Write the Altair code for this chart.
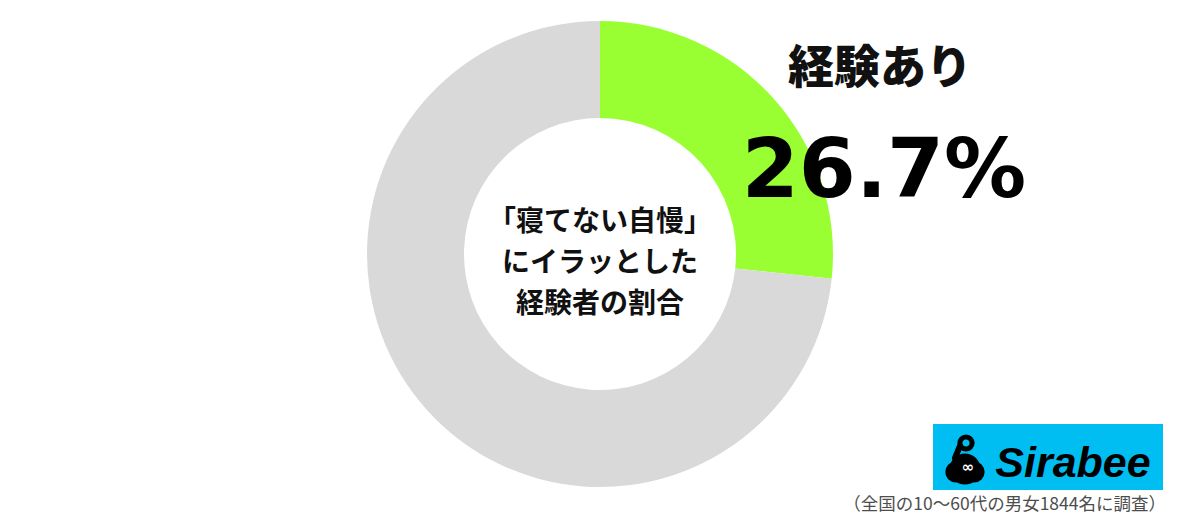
import altair as alt
import pandas as pd

# ---- data ----
categories = ["経験あり", "経験なし"]
values = [26.7, 73.3]
colors = ["#99FF33", "#D9D9D9"]
center_lines = ["「寝てない自慢」", "にイラッとした", "経験者の割合"]
label_text = "経験あり"
pct_text = "26.7%"
footnote = "（全国の10～60代の男女1844名に調査）"
brand = "Sirabee"

W, H = 1184, 506
OFF = 8  # page margin

def px(v):
    return v - OFF

df = pd.DataFrame({"cat": categories, "val": values, "ord": list(range(len(categories)))})

donut = alt.Chart(df).mark_arc(innerRadius=136, outerRadius=233, stroke=None).encode(
    theta=alt.Theta("val:Q", stack=True),
    order=alt.Order("ord:Q"),
    color=alt.Color("cat:N", scale=alt.Scale(domain=categories, range=colors), legend=None),
    x=alt.value(px(600)),
    y=alt.value(px(254)),
)

center_df = pd.DataFrame({"t": center_lines, "i": [0, 1, 2]})
center_txt = alt.Chart(center_df).transform_calculate(
    yy=f"{px(223)} + datum.i * 41"
).mark_text(
    font="Noto Sans CJK JP", fontSize=28, fontWeight="bold", color="#111111",
    align="center", baseline="middle"
).encode(
    text="t:N",
    x=alt.value(px(600)),
    y=alt.Y("yy:Q", scale=None),
)

lab = alt.Chart(pd.DataFrame({"t": [label_text]})).mark_text(
    font="Noto Sans CJK JP", fontSize=46, fontWeight=900, color="#111111",
    align="center", baseline="middle"
).encode(text="t:N", x=alt.value(px(880)), y=alt.value(px(69)))

pct = alt.Chart(pd.DataFrame({"t": [pct_text]})).mark_text(
    font="DejaVu Sans", fontSize=82, fontWeight="bold", color="#000000",
    align="center", baseline="alphabetic"
).encode(text="t:N", x=alt.value(px(884)), y=alt.value(px(197)))

logo_box = alt.Chart(pd.DataFrame({"a": [0]})).mark_rect(color="#00BEF2").encode(
    x=alt.value(px(933)), x2=alt.value(px(1163)),
    y=alt.value(px(424)), y2=alt.value(px(490)),
)

blob_df = pd.DataFrame({
    "bx": [px(956), px(974), px(965)],
    "by": [px(472), px(472), px(469)],
    "bs": [450, 450, 950],
})
blob = alt.Chart(blob_df).mark_circle(color="#000000", opacity=1).encode(
    x=alt.X("bx:Q", scale=None), y=alt.Y("by:Q", scale=None),
    size=alt.Size("bs:Q", scale=None, legend=None),
)
ring = alt.Chart(pd.DataFrame({"a": [0]})).mark_point(
    color="#000000", filled=False, strokeWidth=5, size=150, opacity=1
).encode(x=alt.value(px(966)), y=alt.value(px(443)))
neck = alt.Chart(pd.DataFrame({"a": [0]})).mark_rule(color="#000000", strokeWidth=6, strokeCap="round").encode(
    x=alt.value(px(960)), x2=alt.value(px(955)),
    y=alt.value(px(446)), y2=alt.value(px(458)),
)
inf = alt.Chart(pd.DataFrame({"t": ["∞"]})).mark_text(
    font="DejaVu Sans", fontSize=15, fontWeight="bold", color="#FFFFFF",
    align="center", baseline="middle"
).encode(text="t:N", x=alt.value(px(968)), y=alt.value(px(467)))

brand_txt = alt.Chart(pd.DataFrame({"t": [brand]})).mark_text(
    font="Liberation Sans", fontSize=43, fontWeight="bold", fontStyle="italic",
    color="#000000", align="center", baseline="alphabetic"
).encode(text="t:N", x=alt.value(px(1073)), y=alt.value(px(477)))

foot = alt.Chart(pd.DataFrame({"t": [footnote]})).mark_text(
    font="Noto Sans CJK JP", fontSize=17.5, color="#4D4D4D",
    align="right", baseline="middle"
).encode(text="t:N", x=alt.value(px(1166)), y=alt.value(px(505)))

chart = alt.layer(
    donut, center_txt, lab, pct, logo_box, blob, ring, neck, inf, brand_txt, foot
).properties(
    width=W, height=H, padding=0, background="#FFFFFF",
    autosize=alt.AutoSizeParams(type="none")
).configure_view(stroke=None)

chart.save("out.html", embed_options={"renderer": "svg", "actions": False})
